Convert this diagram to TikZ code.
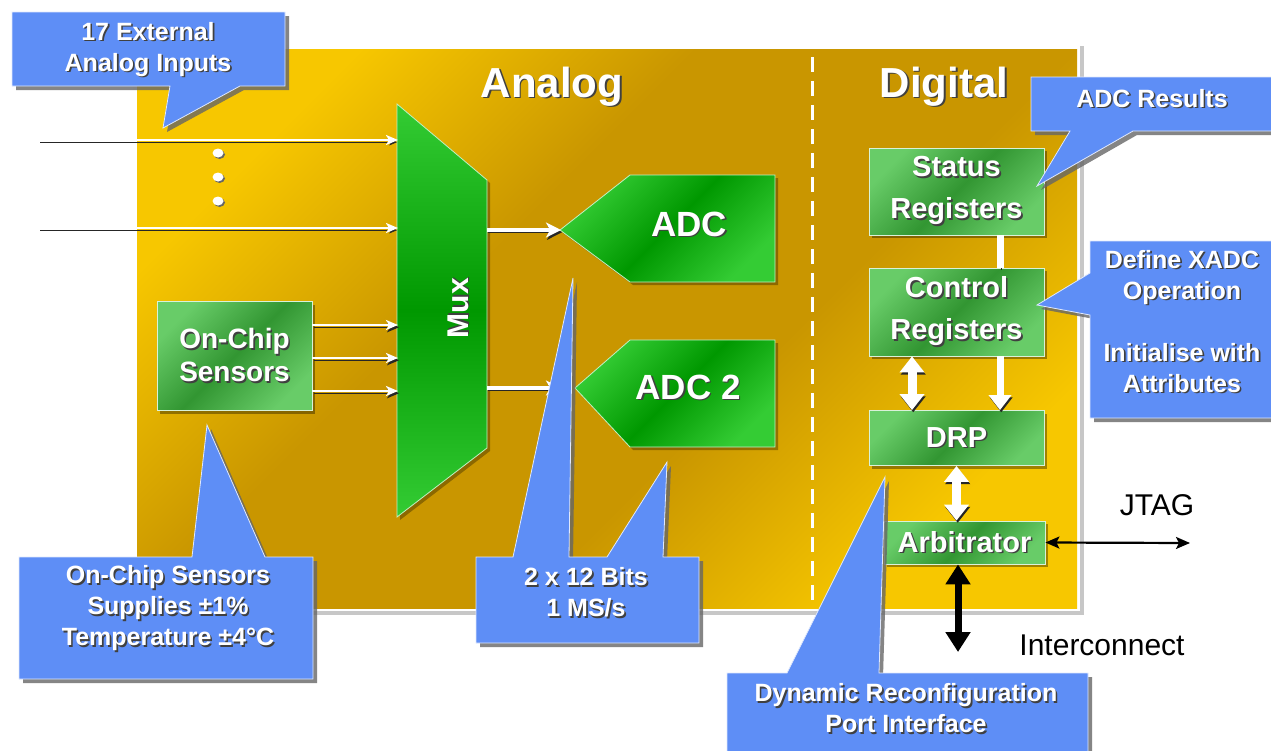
\documentclass[tikz,border=0pt]{standalone}
\usepackage{fontspec}
\setmainfont{Liberation Sans}
\usetikzlibrary{arrows.meta,shadows}
\definecolor{goldA}{RGB}{247,199,0}
\definecolor{goldB}{RGB}{201,150,0}
\definecolor{blueC}{RGB}{94,142,246}
\definecolor{grnA}{RGB}{104,204,104}
\definecolor{grnB}{RGB}{50,150,50}
\definecolor{grnC}{RGB}{52,204,52}
\definecolor{grnD}{RGB}{0,152,0}
\pgfdeclarehorizontalshading{goldsh}{100bp}{color(0bp)=(goldA); color(25bp)=(goldA); color(41bp)=(goldB); color(59bp)=(goldB); color(75bp)=(goldA); color(100bp)=(goldA)}
\pgfdeclarehorizontalshading{grnsh}{100bp}{color(0bp)=(grnA); color(25bp)=(grnA); color(50bp)=(grnB); color(75bp)=(grnA); color(100bp)=(grnA)}
\pgfdeclarehorizontalshading{brightsh}{100bp}{color(0bp)=(grnC); color(25bp)=(grnC); color(50bp)=(grnD); color(75bp)=(grnC); color(100bp)=(grnC)}
\newcommand\shd[1]{\leavevmode\rlap{\hspace{1.6pt}\raisebox{-1.6pt}{\textcolor{black!75}{#1}}}#1}
\tikzset{
  gbox/.style={shading=grnsh, shading angle=-45, draw=white!75!grnA, line width=0.8pt,
    text=white, align=center, inner sep=0pt,
    font=\fontsize{29}{42}\selectfont\bfseries,
    drop shadow={shadow xshift=3pt, shadow yshift=-3pt, fill=black, opacity=0.35}},
  gshape/.style={shading=brightsh, draw=white!70!grnC, line width=0.8pt,
    drop shadow={shadow xshift=3pt, shadow yshift=-3pt, fill=black, opacity=0.3}},
  ctext/.style={text=white, align=center, inner sep=0pt, font=\fontsize{25}{31}\selectfont\bfseries},
  ttext/.style={text=white, inner sep=0pt, font=\fontsize{42}{48}\selectfont\bfseries},
  ptext/.style={text=black, inner sep=0pt, font=\fontsize{30}{36}\selectfont},
  callout/.style={fill=blueC, draw=white!80!blueC, line width=0.8pt,
    drop shadow={shadow xshift=4pt, shadow yshift=-4pt, fill=black!60, opacity=0.8}},
  wline/.style={draw=white, preaction={draw=black!85, transform canvas={xshift=1.2pt,yshift=-2.2pt}}},
  thinhead/.style={-{Stealth[length=12pt,width=10pt,inset=3pt]}},
}
\begin{document}
\begin{tikzpicture}[x=1pt,y=-1pt]
\useasboundingbox (0,0) rectangle (1271,750);
% gold panel
\fill[black!22] (138,46) rectangle (1084,615);
\fill[white] (133,45) rectangle (1080,611);
\path[shading=goldsh, shading angle=-45] (137,49) rectangle (1077,608);
\draw[white, line width=3pt, dash pattern=on 15pt off 9pt] (812,57) -- (812,600);
\node[ttext, anchor=base] (analog) at (552,97) {\shd{Analog}};
\node[ttext, anchor=base] (digital) at (944,97) {\shd{Digital}};

% mux
\path[gshape, shading angle=90] (397,104) -- (487,180) -- (487,448) -- (397,517) -- cycle;
\node[ctext, rotate=90, font=\fontsize{30}{36}\selectfont\bfseries] (muxlbl) at (459,308) {\shd{Mux}};
\coordinate (muxA) at (398,140);
\coordinate (muxB) at (398,228);
\coordinate (muxS1) at (398,325);
\coordinate (muxS2) at (398,358);
\coordinate (muxS3) at (398,391);
\coordinate (muxO1) at (487,230);
\coordinate (muxO2) at (487,388);
\coordinate (inA) at (39,140);
\coordinate (inB) at (39,228);

% ADCs
\path[gshape, shading angle=-45] (560,230) -- (630,175) -- (775,175) -- (775,282) -- (630,282) -- cycle;
\path[gshape, shading angle=-45] (575,388) -- (630,340) -- (775,340) -- (775,447) -- (630,447) -- cycle;
\coordinate (adc1in) at (561,230);
\coordinate (adc2in) at (561,388);
\node[ctext, font=\fontsize{35}{40}\selectfont\bfseries] (adc1) at (689,225) {\shd{ADC}};
\node[ctext, font=\fontsize{35}{40}\selectfont\bfseries] (adc2) at (688,388) {\shd{ADC 2}};

% inputs
\draw[wline, line width=2.2pt, thinhead] (inA) -- (muxA);
\draw[wline, line width=2.2pt, thinhead] (inB) -- (muxB);
\foreach \yy/\nm in {153/d1,177/d2,201/d3}{
  \fill[black!60] (219.5,\yy+1.5) ellipse [x radius=5.5, y radius=4.5];
  \fill[white] (218,\yy) ellipse [x radius=5.5, y radius=4.5];
}

% sensors
\node[gbox, minimum width=155pt, minimum height=109pt, font=\fontsize{28}{33}\selectfont\bfseries] (sens) at (234.5,356) {\shd{On-Chip}\\\shd{Sensors}};
\draw[wline, line width=2.6pt, thinhead] (sens.east |- muxS1) -- (muxS1);
\draw[wline, line width=2.6pt, thinhead] (sens.east |- muxS2) -- (muxS2);
\draw[wline, line width=2.6pt, thinhead] (sens.east |- muxS3) -- (muxS3);

% mux to ADC
\draw[wline, line width=4.5pt, -{Stealth[length=15pt,width=15pt,inset=4pt]}] (muxO1) -- (adc1in);
\draw[wline, line width=4.5pt, -{Stealth[length=15pt,width=15pt,inset=4pt]}] (muxO2) -- (adc2in);

% digital
\node[gbox, minimum width=175pt, minimum height=87pt] (status) at (956.5,191.5) {\shd{Status}\\\shd{Registers}};
\node[gbox, minimum width=175pt, minimum height=88pt] (control) at (956.5,312) {\shd{Control}\\\shd{Registers}};
\node[gbox, minimum width=175pt, minimum height=55pt] (drp) at (956.5,438) {\shd{DRP}};
\node[gbox, minimum width=161pt, minimum height=43pt] (arb) at (964.5,542.5) {\shd{Arbitrator}};

\draw[wline, line width=7pt] ([xshift=43.5pt]status.south) -- ([xshift=43.5pt]control.north);
\draw[wline, line width=7pt, -{Triangle[length=15pt,width=22pt]}] ([xshift=43.5pt]control.south) -- ([xshift=43.5pt]drp.north);
\draw[wline, line width=9pt, {Triangle[length=16pt,width=24pt]}-{Triangle[length=16pt,width=24pt]}] ([xshift=-44.5pt]control.south) -- ([xshift=-44.5pt]drp.north);
\draw[wline, line width=9pt, {Triangle[length=16pt,width=24pt]}-{Triangle[length=16pt,width=24pt]}] (drp.south) -- (drp.south |- arb.north);

\coordinate (icend) at (958,652);
\coordinate (jtend) at (1190,543);
\draw[black, line width=7pt, {Triangle[length=20pt,width=24pt]}-{Triangle[length=20pt,width=24pt]}] (arb.south -| icend) -- (icend);
\draw[black, line width=2.2pt, {Stealth[length=14pt,width=12pt,inset=3pt]}-{Stealth[length=14pt,width=12pt,inset=3pt]}] (arb.east) -- (jtend);
\node[ptext, anchor=base] (jtag) at (1157,515) {JTAG};
\node[ptext, anchor=base] (ic) at (1102,655) {Interconnect};

% callouts
\path[callout] (12,12) -- (285,12) -- (285,86) -- (240,86) -- (163,128) -- (170,86) -- (12,86) -- cycle;
\node[ctext] (t17) at (148,50) {\shd{17 External}\\\shd{Analog Inputs}};

\path[callout] (1031,77) -- (1280,77) -- (1280,131) -- (1133,131) -- (1037,186) -- (1070,131) -- (1031,131) -- cycle;
\node[ctext] (tres) at (1152,99) {\shd{ADC Results}};

\path[callout] (1090,241) -- (1280,241) -- (1280,418) -- (1090,418) -- (1090,315) -- (1037,305) -- (1090,273) -- cycle;
\node[ctext] (txadc) at (1182,322) {\shd{Define XADC}\\\shd{Operation}\\[31pt]\shd{Initialise with}\\\shd{Attributes}};

\path[callout] (19,557) -- (192,557) -- (207,425) -- (265,557) -- (313,557) -- (313,679) -- (19,679) -- cycle;
\node[ctext] (tsens) at (168,609) {\shd{On-Chip Sensors}\\\shd{Supplies ±1\%}\\\shd{Temperature ±4°C}};

\path[callout] (476,557) -- (513,557) -- (573,278) -- (569,557) -- (607,557) -- (667,462) -- (663,557) -- (699,557) -- (699,643) -- (476,643) -- cycle;
\node[ctext] (tbits) at (586,593) {\shd{2 x 12 Bits}\\\shd{1 MS/s}};

\path[callout] (727,673) -- (787,673) -- (885,477) -- (879,673) -- (1088,673) -- (1088,760) -- (727,760) -- cycle;
\node[ctext] (tdrp) at (906,709) {\shd{Dynamic Reconfiguration}\\\shd{Port Interface}};
\end{tikzpicture}
\end{document}
